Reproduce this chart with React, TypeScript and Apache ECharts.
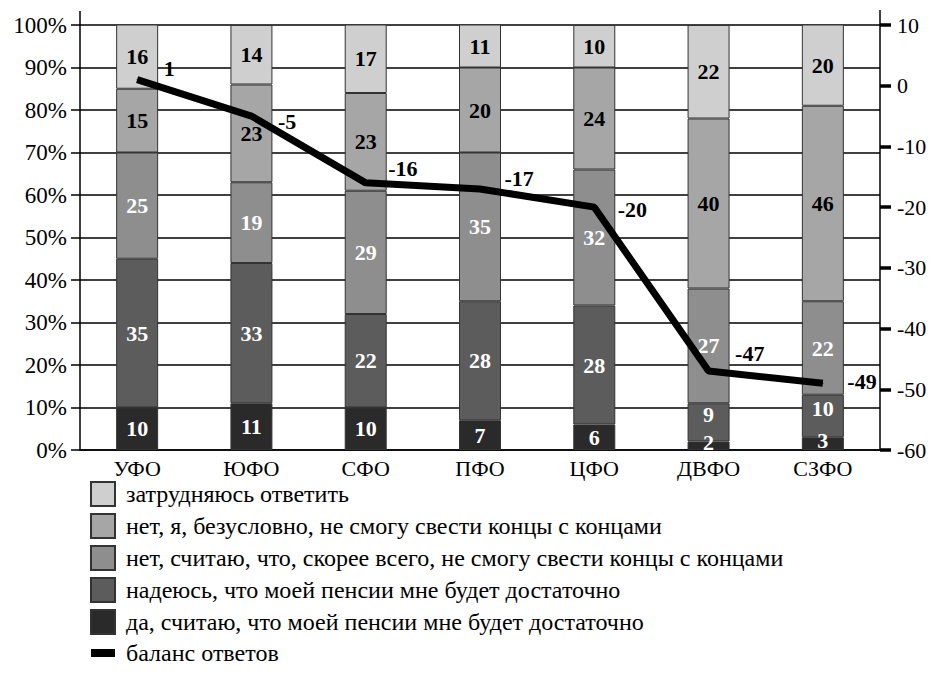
import React, { useEffect, useRef } from "react";
import * as echarts from "echarts";

const categories = ["УФО", "ЮФО", "СФО", "ПФО", "ЦФО", "ДВФО", "СЗФО"];
const seriesNames = [
  "затрудняюсь ответить",
  "нет, я, безусловно, не смогу свести концы с концами",
  "нет, считаю, что, скорее всего, не смогу свести концы с концами",
  "надеюсь, что моей пенсии мне будет достаточно",
  "да, считаю, что моей пенсии мне будет достаточно",
];
const lineName = "баланс ответов";
// values per series (same order as seriesNames)
const hardToSay = [16, 14, 17, 11, 10, 22, 20];
const definitelyNot = [15, 23, 23, 20, 24, 40, 46];
const probablyNot = [25, 19, 29, 35, 32, 27, 22];
const hope = [35, 33, 22, 28, 28, 9, 10];
const yes = [10, 11, 10, 7, 6, 2, 3];
const balance = [1, -5, -16, -17, -20, -47, -49];

const leftTicks = [0, 10, 20, 30, 40, 50, 60, 70, 80, 90, 100];

const barColors = ["#cfcfcf", "#a6a6a6", "#8e8e8e", "#5c5c5c", "#2a2a2a"];
const labelColors = ["#000", "#000", "#fff", "#fff", "#fff"];
const labelDy = [-11, 5, -14, -10, 2, -18, -2];
const labelDx = [2, 2, -2, 0, -1, 2, 0];

const FONT = "'Liberation Serif', 'Times New Roman', 'DejaVu Serif', serif";

export default function App() {
  const ref = useRef<HTMLDivElement>(null);
  useEffect(() => {
    if (!ref.current) return;
    const chart = echarts.init(ref.current, null, { renderer: "svg" });
    const values = [hardToSay, definitelyNot, probablyNot, hope, yes];
    // stack from bottom: yes, hope, probablyNot, definitelyNot, hardToSay
    const order = [4, 3, 2, 1, 0];
    const smallShift = (i: number, v: number) => {
      if (i === 4 && v < 5) return -3;
      if (i === 3 && v < 12) return -8;
      return 0;
    };
    const barSeries = order.map((i) => ({
      name: seriesNames[i],
      type: "bar",
      stack: "total",
      barWidth: 42,
      yAxisIndex: 0,
      data: values[i].map((v) => {
        const dy = smallShift(i, v);
        return dy ? { value: v, label: { offset: [0, dy] } } : v;
      }),
      itemStyle: { color: barColors[i], borderColor: "#333", borderWidth: 1 },
      label: {
        show: true,
        position: "inside",
        color: labelColors[i],
        fontFamily: FONT,
        fontWeight: "bold",
        fontSize: 22,
      },
      z: 3,
    }));
    const option = {
      animation: false,
      textStyle: { fontFamily: FONT },
      grid: { left: 72, right: 55, top: 17, bottom: 238, containLabel: false },
      legend: {
        orient: "vertical",
        left: 77,
        top: 468,
        itemWidth: 24,
        itemHeight: 24,
        itemGap: 6,
        symbolKeepAspect: true,
        textStyle: { fontFamily: FONT, fontSize: 24, lineHeight: 24, color: "#000", padding: [0, 0, 0, 6] },
        data: [
          ...seriesNames.map((n) => ({ name: n, icon: "rect" })),
          { name: lineName, icon: "path://M0,8 H24 V16 H0 Z" },
        ],
      },
      xAxis: {
        type: "category",
        data: categories,
        axisLine: { lineStyle: { color: "#000", width: 1.5 } },
        axisTick: { show: false },
        axisLabel: { color: "#000", fontFamily: FONT, fontSize: 22, margin: 7, lineHeight: 22 },
      },
      yAxis: [
        {
          type: "value",
          min: 0,
          max: 100,
          interval: 10,
          axisLine: { show: true, lineStyle: { color: "#000", width: 1.5 } },
          axisTick: { show: true, length: 9, lineStyle: { color: "#000", width: 1.5 } },
          axisLabel: {
            color: "#000",
            fontFamily: FONT,
            fontSize: 23,
            margin: 13,
            formatter: (v: number) => (leftTicks.includes(v) ? v + "%" : ""),
          },
          splitLine: { show: true, lineStyle: { color: "#000", width: 1.5 } },
        },
        {
          type: "value",
          min: -60,
          max: 10,
          interval: 10,
          position: "right",
          axisLine: { show: true, lineStyle: { color: "#000", width: 1.5 } },
          axisTick: { show: true, length: 11, lineStyle: { color: "#000", width: 3.5 } },
          axisLabel: { color: "#000", fontFamily: FONT, fontSize: 22, margin: 17 },
          splitLine: { show: false },
        },
      ],
      graphic: [
        { type: "line", shape: { x1: 72, y1: 3, x2: 72, y2: 17 }, style: { stroke: "#000", lineWidth: 1.5 } },
        { type: "line", shape: { x1: 872, y1: 2, x2: 872, y2: 17 }, style: { stroke: "#000", lineWidth: 1.5 } },
      ],
      series: [
        ...barSeries,
        {
          name: lineName,
          type: "line",
          yAxisIndex: 1,
          data: balance.map((v, i) => ({
            value: v,
            label: { offset: [labelDx[i], labelDy[i]] },
          })),
          symbol: "circle",
          symbolSize: 1,
          showSymbol: true,
          lineStyle: { color: "#000", width: 7 },
          itemStyle: { color: "#000" },
          label: {
            show: true,
            position: "right",
            distance: 24,
            color: "#000",
            fontFamily: FONT,
            fontWeight: "bold",
            fontSize: 22,
          },
          z: 5,
        },
      ],
    };
    chart.setOption(option as any);
    return () => chart.dispose();
  }, []);
  return <div ref={ref} style={{ width: 927, height: 680 }} />;
}
